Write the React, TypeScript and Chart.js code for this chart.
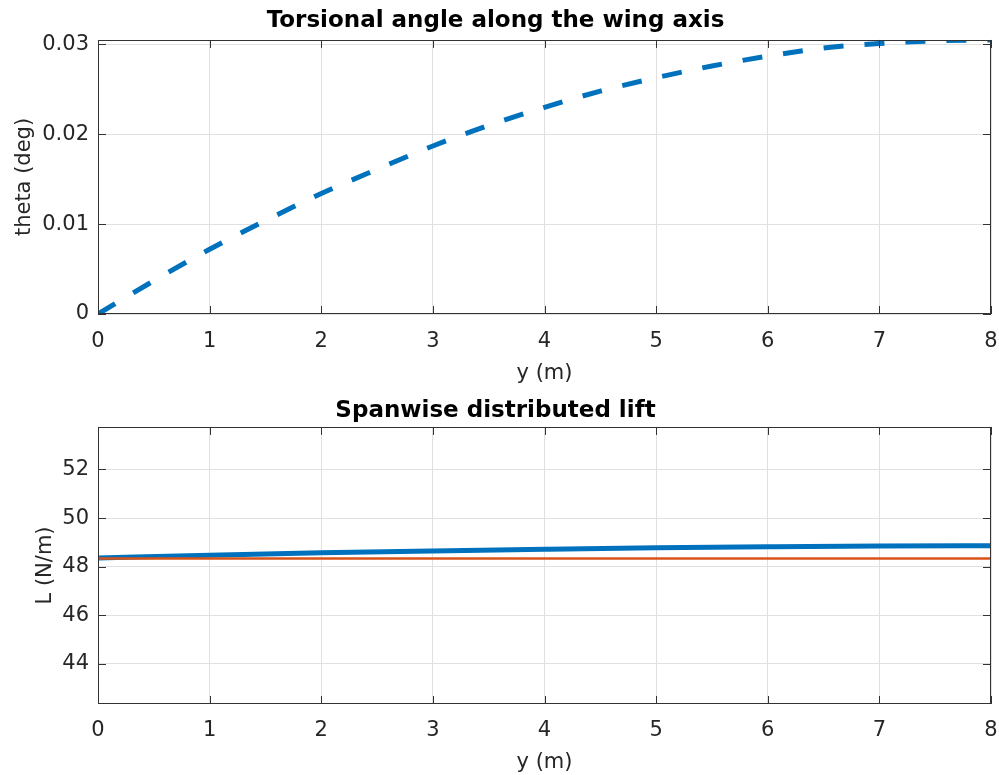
import React, { useEffect, useRef } from "react";
import { Chart, registerables } from "chart.js";

Chart.register(...registerables);

// ---- data ----
const spanPositions = [0, 0.5, 1, 1.5, 2, 2.5, 3, 3.5, 4, 4.5, 5, 5.5, 6, 6.5, 7, 7.5, 8];
const torsionAngle = [
  0, 0.0037, 0.0072, 0.0104, 0.0134, 0.0161, 0.0187, 0.021, 0.023, 0.0248, 0.0263, 0.0276,
  0.0287, 0.0296, 0.0301, 0.0304, 0.0305,
];
const thetaTicks = [0, 0.01, 0.02, 0.03];

const liftPositions = [0, 1, 2, 3, 4, 5, 6, 7, 8];
const liftElastic = [48.36, 48.47, 48.57, 48.65, 48.72, 48.78, 48.82, 48.85, 48.86];
const liftRigid = [48.34, 48.34, 48.34, 48.34, 48.34, 48.34, 48.34, 48.34, 48.34];
const liftTicks = [44, 46, 48, 50, 52];
const spanTicks = [0, 1, 2, 3, 4, 5, 6, 7, 8];

const FONT = "'DejaVu Sans', 'Liberation Sans', Arial, sans-serif";
const TEXT = "#262626";
const GRID = "#e0e0e0";
const BOX = "#333333";

const boxPlugin = {
  id: "matlabBox",
  afterDatasetsDraw(chart: any) {
    const { ctx, chartArea: a, scales } = chart;
    const L = 8;
    ctx.save();
    ctx.strokeStyle = BOX;
    ctx.lineWidth = 1;
    ctx.beginPath();
    for (const t of scales.x.ticks) {
      const px = Math.round(scales.x.getPixelForValue(t.value)) + 0.5;
      ctx.moveTo(px, a.bottom);
      ctx.lineTo(px, a.bottom - L);
      ctx.moveTo(px, a.top);
      ctx.lineTo(px, a.top + L);
    }
    for (const t of scales.y.ticks) {
      const py = Math.round(scales.y.getPixelForValue(t.value)) + 0.5;
      ctx.moveTo(a.left, py);
      ctx.lineTo(a.left + L, py);
      ctx.moveTo(a.right, py);
      ctx.lineTo(a.right - L, py);
    }
    ctx.stroke();
    ctx.strokeRect(Math.round(a.left) + 0.5, Math.round(a.top) + 0.5, Math.round(a.right - a.left) - 1, Math.round(a.bottom - a.top) - 1);
    ctx.restore();
  },
};

function makeOptions(p: {
  title: string;
  titlePadTop: number;
  titlePadBottom: number;
  yTitle: string;
  yTitlePad: number;
  yMin: number;
  yMax: number;
  yTicks: number[];
  yFmt: (v: number) => string;
  xTickPad: number;
  xTitlePadBottom: number;
  xHeight: number;
}) {
  return {
    responsive: false,
    animation: false as const,
    events: [],
    layout: { padding: { left: 0, right: 8, top: 0, bottom: 0 } },
    plugins: {
      legend: { display: false },
      tooltip: { enabled: false },
      title: {
        display: true,
        text: p.title,
        color: "#000",
        font: { family: FONT, size: 23, weight: "bold" as const, lineHeight: 1.15 },
        padding: { top: p.titlePadTop, bottom: p.titlePadBottom },
      },
    },
    scales: {
      x: {
        type: "linear" as const,
        min: 0,
        max: 8,
        afterBuildTicks: (s: any) => {
          s.ticks = spanTicks.map((v) => ({ value: v }));
        },
        afterFit: (s: any) => {
          s.height = p.xHeight;
          s.paddingLeft = 0;
          s.paddingRight = 0;
        },
        grid: { color: GRID, drawTicks: false, lineWidth: 1 },
        border: { display: false },
        ticks: {
          color: TEXT,
          font: { family: FONT, size: 21 },
          padding: p.xTickPad,
          maxRotation: 0,
          autoSkip: false,
          callback: (v: any) => String(v),
        },
        title: {
          display: true,
          text: "y (m)",
          color: TEXT,
          font: { family: FONT, size: 21 },
          padding: { top: 0, bottom: p.xTitlePadBottom },
        },
      },
      y: {
        type: "linear" as const,
        min: p.yMin,
        max: p.yMax,
        afterBuildTicks: (s: any) => {
          s.ticks = p.yTicks.map((v) => ({ value: v }));
        },
        afterFit: (s: any) => {
          s.width = 98;
        },
        grid: { color: GRID, drawTicks: false, lineWidth: 1 },
        border: { display: false },
        ticks: {
          color: TEXT,
          font: { family: FONT, size: 21 },
          padding: 9,
          autoSkip: false,
          callback: (v: any) => p.yFmt(Number(v)),
        },
        title: {
          display: true,
          text: p.yTitle,
          color: TEXT,
          font: { family: FONT, size: 21 },
          padding: { top: p.yTitlePad, bottom: 0 },
        },
      },
    },
  };
}

function TorsionChart() {
  const ref = useRef<HTMLCanvasElement | null>(null);
  useEffect(() => {
    if (!ref.current) return;
    const chart = new Chart(ref.current, {
      type: "line",
      data: {
        datasets: [
          {
            data: spanPositions.map((x, i) => ({ x, y: torsionAngle[i] })),
            borderColor: "#0072BD",
            borderWidth: 5,
            borderDash: [20, 21],
            borderCapStyle: "butt",
            pointRadius: 0,
            cubicInterpolationMode: "monotone",
            fill: false,
          },
        ],
      },
      options: makeOptions({
        title: "Torsional angle along the wing axis",
        titlePadTop: 8,
        titlePadBottom: 5.5,
        yTitle: "theta (deg)",
        yTitlePad: 12,
        yMin: 0,
        yMax: 0.0305,
        yTicks: thetaTicks,
        yFmt: (v) => (v === 0 ? "0" : v.toFixed(2)),
        xTickPad: 15,
        xTitlePadBottom: 4,
        xHeight: 76,
      }) as any,
      plugins: [boxPlugin],
    });
    return () => chart.destroy();
  }, []);
  return <canvas ref={ref} width={999} height={390} style={{ position: "absolute", left: 0, top: 0 }} />;
}

function LiftChart() {
  const ref = useRef<HTMLCanvasElement | null>(null);
  useEffect(() => {
    if (!ref.current) return;
    const chart = new Chart(ref.current, {
      type: "line",
      data: {
        datasets: [
          {
            data: liftPositions.map((x, i) => ({ x, y: liftElastic[i] })),
            borderColor: "#0072BD",
            borderWidth: 5,
            pointRadius: 0,
            cubicInterpolationMode: "monotone",
            fill: false,
            order: 2,
          },
          {
            data: liftPositions.map((x, i) => ({ x, y: liftRigid[i] })),
            borderColor: "#D95319",
            borderWidth: 2.5,
            pointRadius: 0,
            fill: false,
            order: 1,
          },
        ],
      },
      options: makeOptions({
        title: "Spanwise distributed lift",
        titlePadTop: 8,
        titlePadBottom: 2.5,
        yTitle: "L (N/m)",
        yTitlePad: 33,
        yMin: 42.35,
        yMax: 53.75,
        yTicks: liftTicks,
        yFmt: (v) => String(v),
        xTickPad: 14,
        xTitlePadBottom: 0,
        xHeight: 71,
      }) as any,
      plugins: [boxPlugin],
    });
    return () => chart.destroy();
  }, []);
  return <canvas ref={ref} width={999} height={385} style={{ position: "absolute", left: 0, top: 390 }} />;
}

export default function App() {
  return (
    <div style={{ position: "absolute", left: 0, top: 0, width: 999, height: 775, background: "#fff", overflow: "hidden" }}>
      <TorsionChart />
      <LiftChart />
    </div>
  );
}
